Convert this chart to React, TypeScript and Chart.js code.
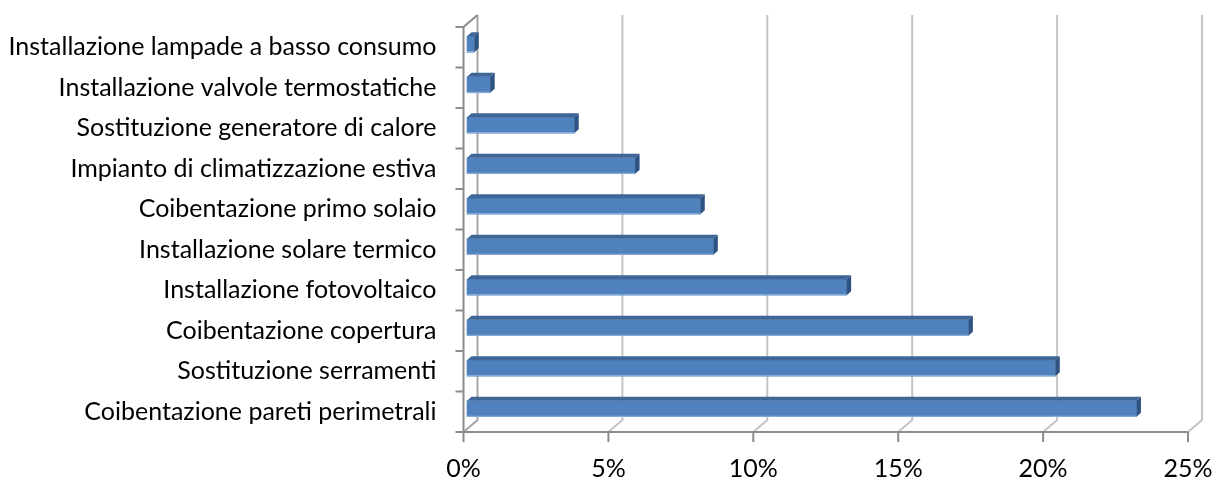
import React, { useEffect, useRef } from 'react';
import { Chart, registerables } from 'chart.js';

Chart.register(...registerables);

const categories = [
  'Installazione lampade a basso consumo',
  'Installazione valvole termostatiche',
  'Sostituzione generatore di calore',
  'Impianto di climatizzazione estiva',
  'Coibentazione primo solaio',
  'Installazione solare termico',
  'Installazione fotovoltaico',
  'Coibentazione copertura',
  'Sostituzione serramenti',
  'Coibentazione pareti perimetrali',
];
const values = [0.25, 0.8, 3.7, 5.8, 8.05, 8.5, 13.1, 17.3, 20.3, 23.1];
const xTicks = [0, 5, 10, 15, 20, 25];

const WALL_DX = 14;
const WALL_DY = -12;
const BAR_DX = 3.5;
const BAR_DY = -3;
const DEPTH_DX = 4.5;
const DEPTH_DY = -4;

const FONT = { family: 'Lato, "Noto Sans", sans-serif', size: 25 };

const threeD = {
  id: 'threeD',
  beforeDatasetsDraw(chart: any) {
    const { ctx, chartArea, scales } = chart;
    const { left, top, right, bottom } = chartArea;
    const xs = scales.x;
    ctx.save();
    ctx.lineCap = 'butt';
    xTicks.forEach((v) => {
      const xf = xs.getPixelForValue(v);
      ctx.strokeStyle = v === 0 ? '#A6A6A6' : '#C4C4C4';
      ctx.lineWidth = 2;
      ctx.beginPath();
      ctx.moveTo(xf + WALL_DX, top + WALL_DY);
      ctx.lineTo(xf + WALL_DX, bottom + WALL_DY);
      ctx.lineTo(xf, bottom);
      ctx.stroke();
    });
    ctx.strokeStyle = '#8C8C8C';
    ctx.lineWidth = 2;
    ctx.beginPath();
    ctx.moveTo(left + WALL_DX, top + WALL_DY);
    ctx.lineTo(left, top);
    ctx.lineTo(left, bottom);
    ctx.lineTo(right, bottom);
    ctx.stroke();
    const n = categories.length;
    const band = (bottom - top) / n;
    ctx.beginPath();
    for (let i = 0; i <= n; i++) {
      const y = top + i * band;
      ctx.moveTo(left - 8, y);
      ctx.lineTo(left, y);
    }
    xTicks.forEach((v) => {
      const xf = xs.getPixelForValue(v);
      ctx.moveTo(xf, bottom);
      ctx.lineTo(xf, bottom + 10);
    });
    ctx.stroke();
    ctx.restore();
    ctx.save();
    ctx.translate(BAR_DX, BAR_DY);
  },
  afterDatasetsDraw(chart: any) {
    const { ctx } = chart;
    ctx.restore();
    const meta = chart.getDatasetMeta(0);
    ctx.save();
    meta.data.forEach((el: any) => {
      const p = el.getProps(['x', 'y', 'base', 'height'], true);
      const l = Math.min(p.base, p.x) + BAR_DX;
      const r = Math.max(p.base, p.x) + BAR_DX;
      const t = p.y - p.height / 2 + BAR_DY;
      const b = p.y + p.height / 2 + BAR_DY;
      ctx.fillStyle = '#3E6696';
      ctx.beginPath();
      ctx.moveTo(l, t);
      ctx.lineTo(r, t);
      ctx.lineTo(r + DEPTH_DX, t + DEPTH_DY);
      ctx.lineTo(l + DEPTH_DX, t + DEPTH_DY);
      ctx.closePath();
      ctx.fill();
      ctx.fillStyle = '#2E5282';
      ctx.beginPath();
      ctx.moveTo(r, t);
      ctx.lineTo(r + DEPTH_DX, t + DEPTH_DY);
      ctx.lineTo(r + DEPTH_DX, b + DEPTH_DY);
      ctx.lineTo(r, b);
      ctx.closePath();
      ctx.fill();
      ctx.strokeStyle = 'rgba(160,190,225,0.9)';
      ctx.lineWidth = 1;
      ctx.beginPath();
      ctx.moveTo(l, b - 0.5);
      ctx.lineTo(r, b - 0.5);
      ctx.stroke();
    });
    ctx.restore();
  },
};

export default function App() {
  const ref = useRef<HTMLCanvasElement | null>(null);
  useEffect(() => {
    if (!ref.current) return;
    const chart = new Chart(ref.current, {
      type: 'bar',
      data: {
        labels: categories,
        datasets: [
          {
            data: values,
            backgroundColor: '#4F81BD',
            borderWidth: 0,
            barThickness: 16,
            clip: false,
          } as any,
        ],
      },
      options: {
        indexAxis: 'y',
        animation: false,
        responsive: false,
        maintainAspectRatio: false,
        layout: { padding: { left: 0, right: 26, top: 27, bottom: 0 } },
        plugins: { legend: { display: false }, tooltip: { enabled: false } },
        scales: {
          x: {
            min: 0,
            max: 25,
            grid: { display: false },
            border: { display: false },
            ticks: {
              stepSize: 5,
              color: '#000',
              font: FONT,
              padding: 14,
              maxRotation: 0,
              callback: (v: any) => v + '%',
            },
            afterFit: (s: any) => {
              s.height = 47;
              s.paddingLeft = 0;
              s.paddingRight = 0;
            },
          },
          y: {
            grid: { display: false },
            border: { display: false },
            ticks: { color: '#000', font: FONT, padding: 19 },
            afterFit: (s: any) => {
              s.width = 463.5;
              s.paddingTop = 0;
              s.paddingBottom = 0;
            },
          },
        },
      },
      plugins: [threeD],
    });
    return () => chart.destroy();
  }, []);
  return (
    <div style={{ position: 'fixed', left: 0, top: 0, width: 1214, height: 479, background: '#fff' }}>
      <canvas ref={ref} width={1214} height={479} style={{ display: 'block' }} />
    </div>
  );
}
